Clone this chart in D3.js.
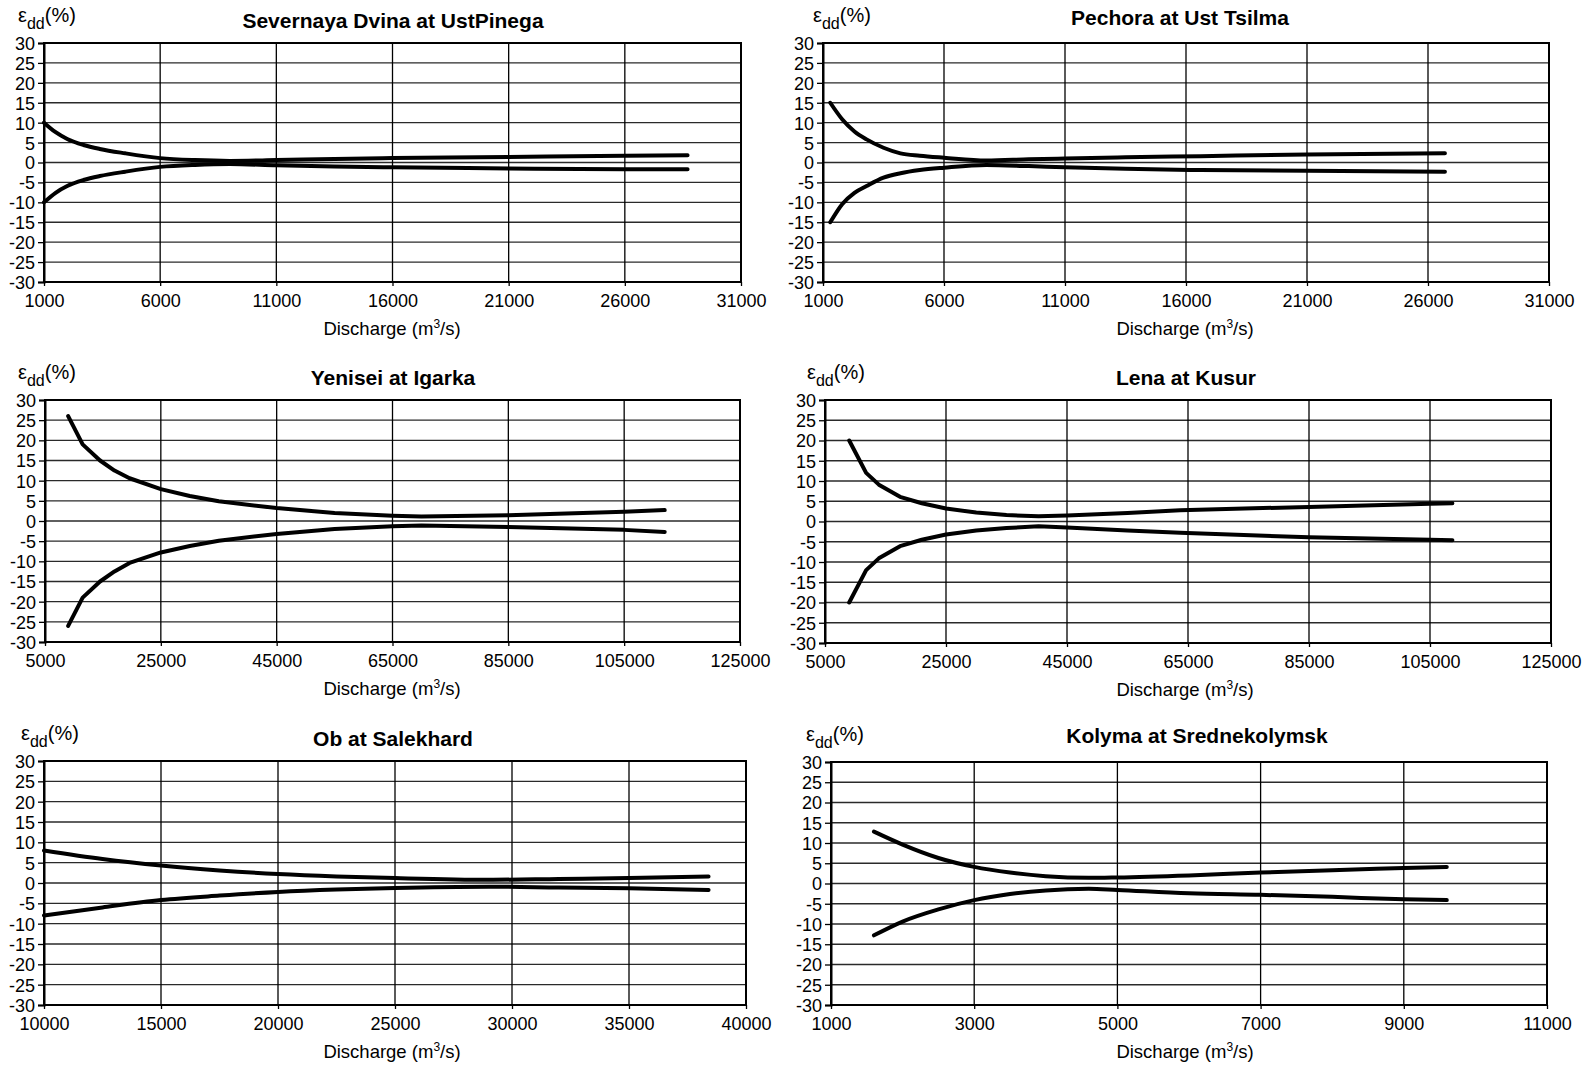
<!DOCTYPE html>
<html>
<head>
<meta charset="utf-8">
<script src="https://cdn.jsdelivr.net/npm/d3@7"></script>
<style>
  body { margin: 0; background: #fff; }
  svg { display: block; }
  text { font-family: "Liberation Sans", Arial, Helvetica, sans-serif; fill: #000; }
  .title { font-weight: bold; font-size: 21px; }
  .tick text { font-size: 18px; }
  .xlab { font-size: 18.5px; }
  .ylab { font-size: 20px; }
</style>
</head>
<body>
<div id="chart"></div>
<script>
// panel titles
var titles = ["Severnaya Dvina at UstPinega", "Pechora at Ust Tsilma", "Yenisei at Igarka",
  "Lena at Kusur", "Ob at Salekhard", "Kolyma at Srednekolymsk"];

// x axis ticks per panel
var xTicks1 = [1000, 6000, 11000, 16000, 21000, 26000, 31000];
var xTicks2 = [1000, 6000, 11000, 16000, 21000, 26000, 31000];
var xTicks3 = [5000, 25000, 45000, 65000, 85000, 105000, 125000];
var xTicks4 = [5000, 25000, 45000, 65000, 85000, 105000, 125000];
var xTicks5 = [10000, 15000, 20000, 25000, 30000, 35000, 40000];
var xTicks6 = [1000, 3000, 5000, 7000, 9000, 11000];
var yTicks = [30, 25, 20, 15, 10, 5, 0, -5, -10, -15, -20, -25, -30];

// discharge (m3/s) and error band (%)
var q1 = [1000, 1500, 2000, 2700, 3400, 4500, 6000, 7500, 9000, 11000, 13500, 16000, 21000, 26000, 28700];
var upper1 = [10, 7.6, 5.9, 4.4, 3.4, 2.3, 1.1, 0.6, 0.4, 0.6, 0.9, 1.1, 1.4, 1.7, 1.8];
var lower1 = [-10, -7.6, -5.9, -4.4, -3.4, -2.3, -1.1, -0.6, -0.4, -0.7, -1.0, -1.2, -1.5, -1.7, -1.7];

var q2 = [1300, 1800, 2300, 2800, 3500, 4200, 5000, 6000, 7750, 9500, 11000, 13500, 16600, 21000, 26700];
var upper2 = [15, 10.8, 7.8, 5.8, 3.7, 2.3, 1.7, 1.2, 0.5, 0.8, 1.0, 1.3, 1.6, 2.0, 2.3];
var lower2 = [-15, -10.4, -7.6, -5.9, -3.8, -2.7, -1.9, -1.3, -0.6, -0.9, -1.2, -1.6, -1.9, -2.1, -2.3];

var q3 = [9000, 11500, 14500, 17000, 19600, 25000, 30000, 35000, 45000, 55000, 65000, 70000, 85000, 105000, 112000];
var upper3 = [26, 19, 15, 12.5, 10.6, 7.9, 6.2, 4.9, 3.2, 2.0, 1.3, 1.1, 1.4, 2.3, 2.7];
var lower3 = [-26, -19, -15, -12.5, -10.4, -7.8, -6.2, -4.9, -3.2, -2.0, -1.3, -1.1, -1.5, -2.2, -2.7];

var q4 = [9000, 11800, 13900, 17400, 21000, 25000, 30000, 35000, 40300, 45000, 55000, 63700, 85000, 105000, 108700];
var upper4 = [20, 12, 9.1, 6.1, 4.5, 3.2, 2.2, 1.6, 1.3, 1.5, 2.1, 2.8, 3.6, 4.4, 4.5];
var lower4 = [-20, -12, -9.1, -6.1, -4.5, -3.2, -2.2, -1.6, -1.2, -1.5, -2.2, -2.8, -3.9, -4.5, -4.6];

var q5 = [10000, 12500, 15000, 17500, 20000, 22500, 25000, 29000, 32000, 35000, 38400];
var upper5 = [8, 5.9, 4.3, 3.1, 2.2, 1.6, 1.2, 0.8, 1.0, 1.2, 1.6];
var lower5 = [-8, -6, -4.2, -3.1, -2.2, -1.6, -1.2, -0.9, -1.1, -1.3, -1.7];

var q6 = [1600, 2000, 2500, 3000, 3500, 4000, 4600, 5000, 6000, 7000, 8000, 9000, 9600];
var upper6 = [12.8, 9.6, 6.3, 4.1, 2.7, 1.8, 1.4, 1.5, 2.0, 2.7, 3.3, 3.8, 4.1];
var lower6 = [-12.8, -9.4, -6.4, -4.1, -2.6, -1.7, -1.3, -1.6, -2.4, -2.8, -3.3, -3.9, -4.1];

// layout of each panel (plot box in page pixels)
var panels = [
  {q: q1, up: upper1, lo: lower1, xt: xTicks1, smooth: true,  l: 44,  t: 43,  r: 741,  b: 282,  tx: 393,  ty: 15, lx: 18,  xx: 392},
  {q: q2, up: upper2, lo: lower2, xt: xTicks2, smooth: true,  l: 823, t: 43,  r: 1549, b: 282,  tx: 1180, ty: 18, lx: 813, xx: 1185},
  {q: q3, up: upper3, lo: lower3, xt: xTicks3, smooth: false, l: 45,  t: 400, r: 740,  b: 642,  tx: 393,  ty: 15, lx: 18,  xx: 392},
  {q: q4, up: upper4, lo: lower4, xt: xTicks4, smooth: false, l: 825, t: 400, r: 1551, b: 643,  tx: 1186, ty: 15, lx: 807, xx: 1185},
  {q: q5, up: upper5, lo: lower5, xt: xTicks5, smooth: true,  l: 44,  t: 761, r: 746,  b: 1005, tx: 393,  ty: 15, lx: 21,  xx: 392},
  {q: q6, up: upper6, lo: lower6, xt: xTicks6, smooth: true,  l: 831, t: 762, r: 1547, b: 1005, tx: 1197, ty: 19, lx: 806, xx: 1185}
];

var svg = d3.select("#chart").append("svg")
  .attr("width", 1590)
  .attr("height", 1068);

var plain = function(d) { return String(d); };

panels.forEach(function(p, i) {
  var w = p.r - p.l, h = p.b - p.t;
  var x = d3.scaleLinear().domain(d3.extent(p.xt)).range([0, w]);
  var y = d3.scaleLinear().domain([-30, 30]).range([h, 0]);

  var g = svg.append("g").attr("transform", "translate(" + p.l + "," + p.t + ")");

  // horizontal grid
  g.selectAll(".hgrid").data(yTicks).enter().append("line")
    .attr("x1", 0).attr("x2", w)
    .attr("y1", function(d) { return y(d); })
    .attr("y2", function(d) { return y(d); })
    .attr("stroke", "#2a2a2a").attr("stroke-width", 1.3);

  // vertical grid
  g.selectAll(".vgrid").data(p.xt).enter().append("line")
    .attr("x1", function(d) { return x(d); })
    .attr("x2", function(d) { return x(d); })
    .attr("y1", 0).attr("y2", h)
    .attr("stroke", "#000").attr("stroke-width", 1.3);

  // frame
  g.append("rect").attr("width", w).attr("height", h)
    .attr("fill", "none").attr("stroke", "#000").attr("stroke-width", 2);

  var xAxis = g.append("g").attr("transform", "translate(0," + h + ")")
    .call(d3.axisBottom(x).tickValues(p.xt).tickSize(4).tickPadding(8).tickFormat(plain));
  xAxis.select(".domain").remove();
  xAxis.selectAll(".tick line").attr("stroke-width", 1.3);

  var yAxis = g.append("g")
    .call(d3.axisLeft(y).tickValues(yTicks).tickSize(6).tickPadding(3).tickFormat(plain));
  yAxis.select(".domain").attr("stroke-width", 2);
  yAxis.selectAll(".tick line").attr("stroke-width", 1.3);
  yAxis.selectAll(".tick text").attr("dy", "0.36em");

  // error envelope lines
  var curve = p.smooth ? d3.curveMonotoneX : d3.curveLinear;
  [p.up, p.lo].forEach(function(vals) {
    var line = d3.line()
      .x(function(d, k) { return x(p.q[k]); })
      .y(function(d) { return y(d); })
      .curve(curve);
    g.append("path").datum(vals)
      .attr("d", line)
      .attr("fill", "none")
      .attr("stroke", "#000")
      .attr("stroke-width", 4)
      .attr("stroke-linecap", "round")
      .attr("stroke-linejoin", "round");
  });

  // title
  svg.append("text").attr("class", "title")
    .attr("x", p.tx).attr("y", p.t - p.ty)
    .attr("text-anchor", "middle")
    .text(titles[i]);

  // y label: epsilon_dd (%)
  var yl = svg.append("text").attr("class", "ylab")
    .attr("x", p.lx).attr("y", p.t - 21);
  yl.append("tspan").text("\u03b5");
  yl.append("tspan").attr("dy", 7).style("font-size", "16px").text("dd");
  yl.append("tspan").attr("dy", -7).text("(%)");

  // x label
  var xl = svg.append("text").attr("class", "xlab")
    .attr("x", p.xx).attr("y", p.b + 53)
    .attr("text-anchor", "middle");
  xl.append("tspan").text("Discharge (m");
  xl.append("tspan").attr("dy", -7).style("font-size", "12px").text("3");
  xl.append("tspan").attr("dy", 7).text("/s)");
});
</script>
</body>
</html>
